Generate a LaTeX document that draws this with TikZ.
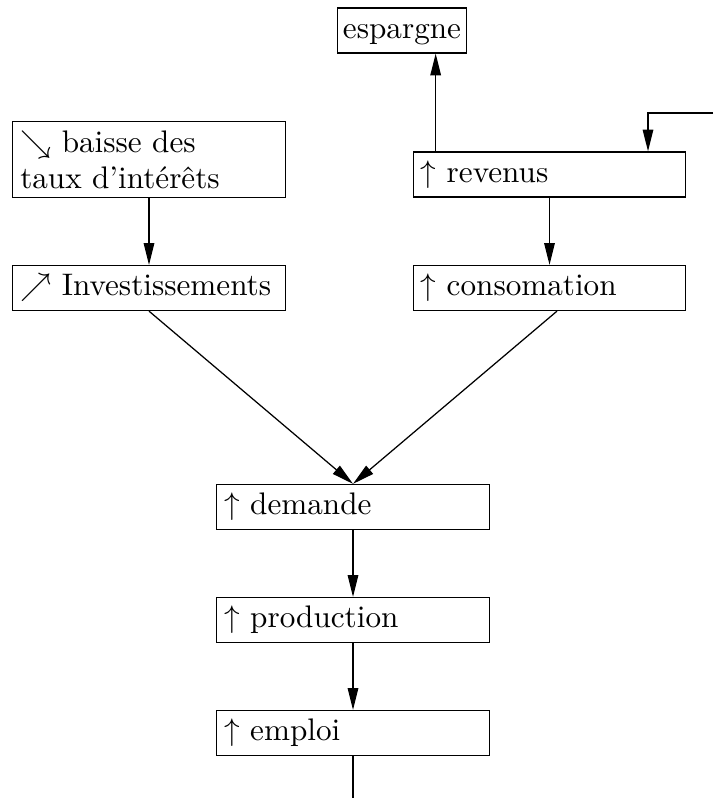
\documentclass[tikz,border=0pt]{standalone}
\usetikzlibrary{arrows.meta}
\begin{document}
\begin{tikzpicture}[x=0.3208pt,y=-0.3208pt,node distance=36.25pt,>={Triangle[length=7pt,width=3.4pt]},
    box/.style={draw, rectangle, text width=82.6pt, align=left, inner xsep=2.4pt, inner ysep=2.78pt}]
    \useasboundingbox (0,0) rectangle (713,798);
        \node (esp) [draw, rectangle, inner xsep=1.8pt, inner ysep=2.78pt, text height=6.94pt, text depth=1.94pt] at (402,30.5) {espargne};
        \node (baisse) [box] at (149,159.5) {$\searrow$ baisse des\\[-0.44pt]taux d'intérêts};
        \node (rev) [box] at (549.5,174.5) {$\uparrow$ revenus};
        \node (inv) [box] at (149,288) {$\nearrow$ Investissements};
        \node (cons) [box] at (549.5,288) {$\uparrow$ consomation};
        \node (dem) [box] at (353,507) {$\uparrow$ demande};
        \node (prod) [box, below of=dem] {$\uparrow$ production};
        \node (emp) [box, below of=prod] {$\uparrow$ emploi};
        \coordinate (boucle) at (713,113);
        \coordinate (sortie) at (353,798);
        \coordinate (depart) at ([xshift=7.38pt]rev.north west);

        \draw[->] (boucle) -| ([xshift=31.6pt]rev.north);
        \draw[->] (depart) -- (depart |- esp.south);
        \draw[->] (baisse) -- (inv);
        \draw[->] (rev) -- (cons);
        \draw[->] (inv.south) -- (dem.north);
        \draw[->] ([xshift=2.4pt]cons.south) -- (dem.north);
        \draw[->] (dem) -- (prod);
        \draw[->] (prod) -- (emp);
        \draw (emp) -- (sortie);
    \end{tikzpicture}
\end{document}
